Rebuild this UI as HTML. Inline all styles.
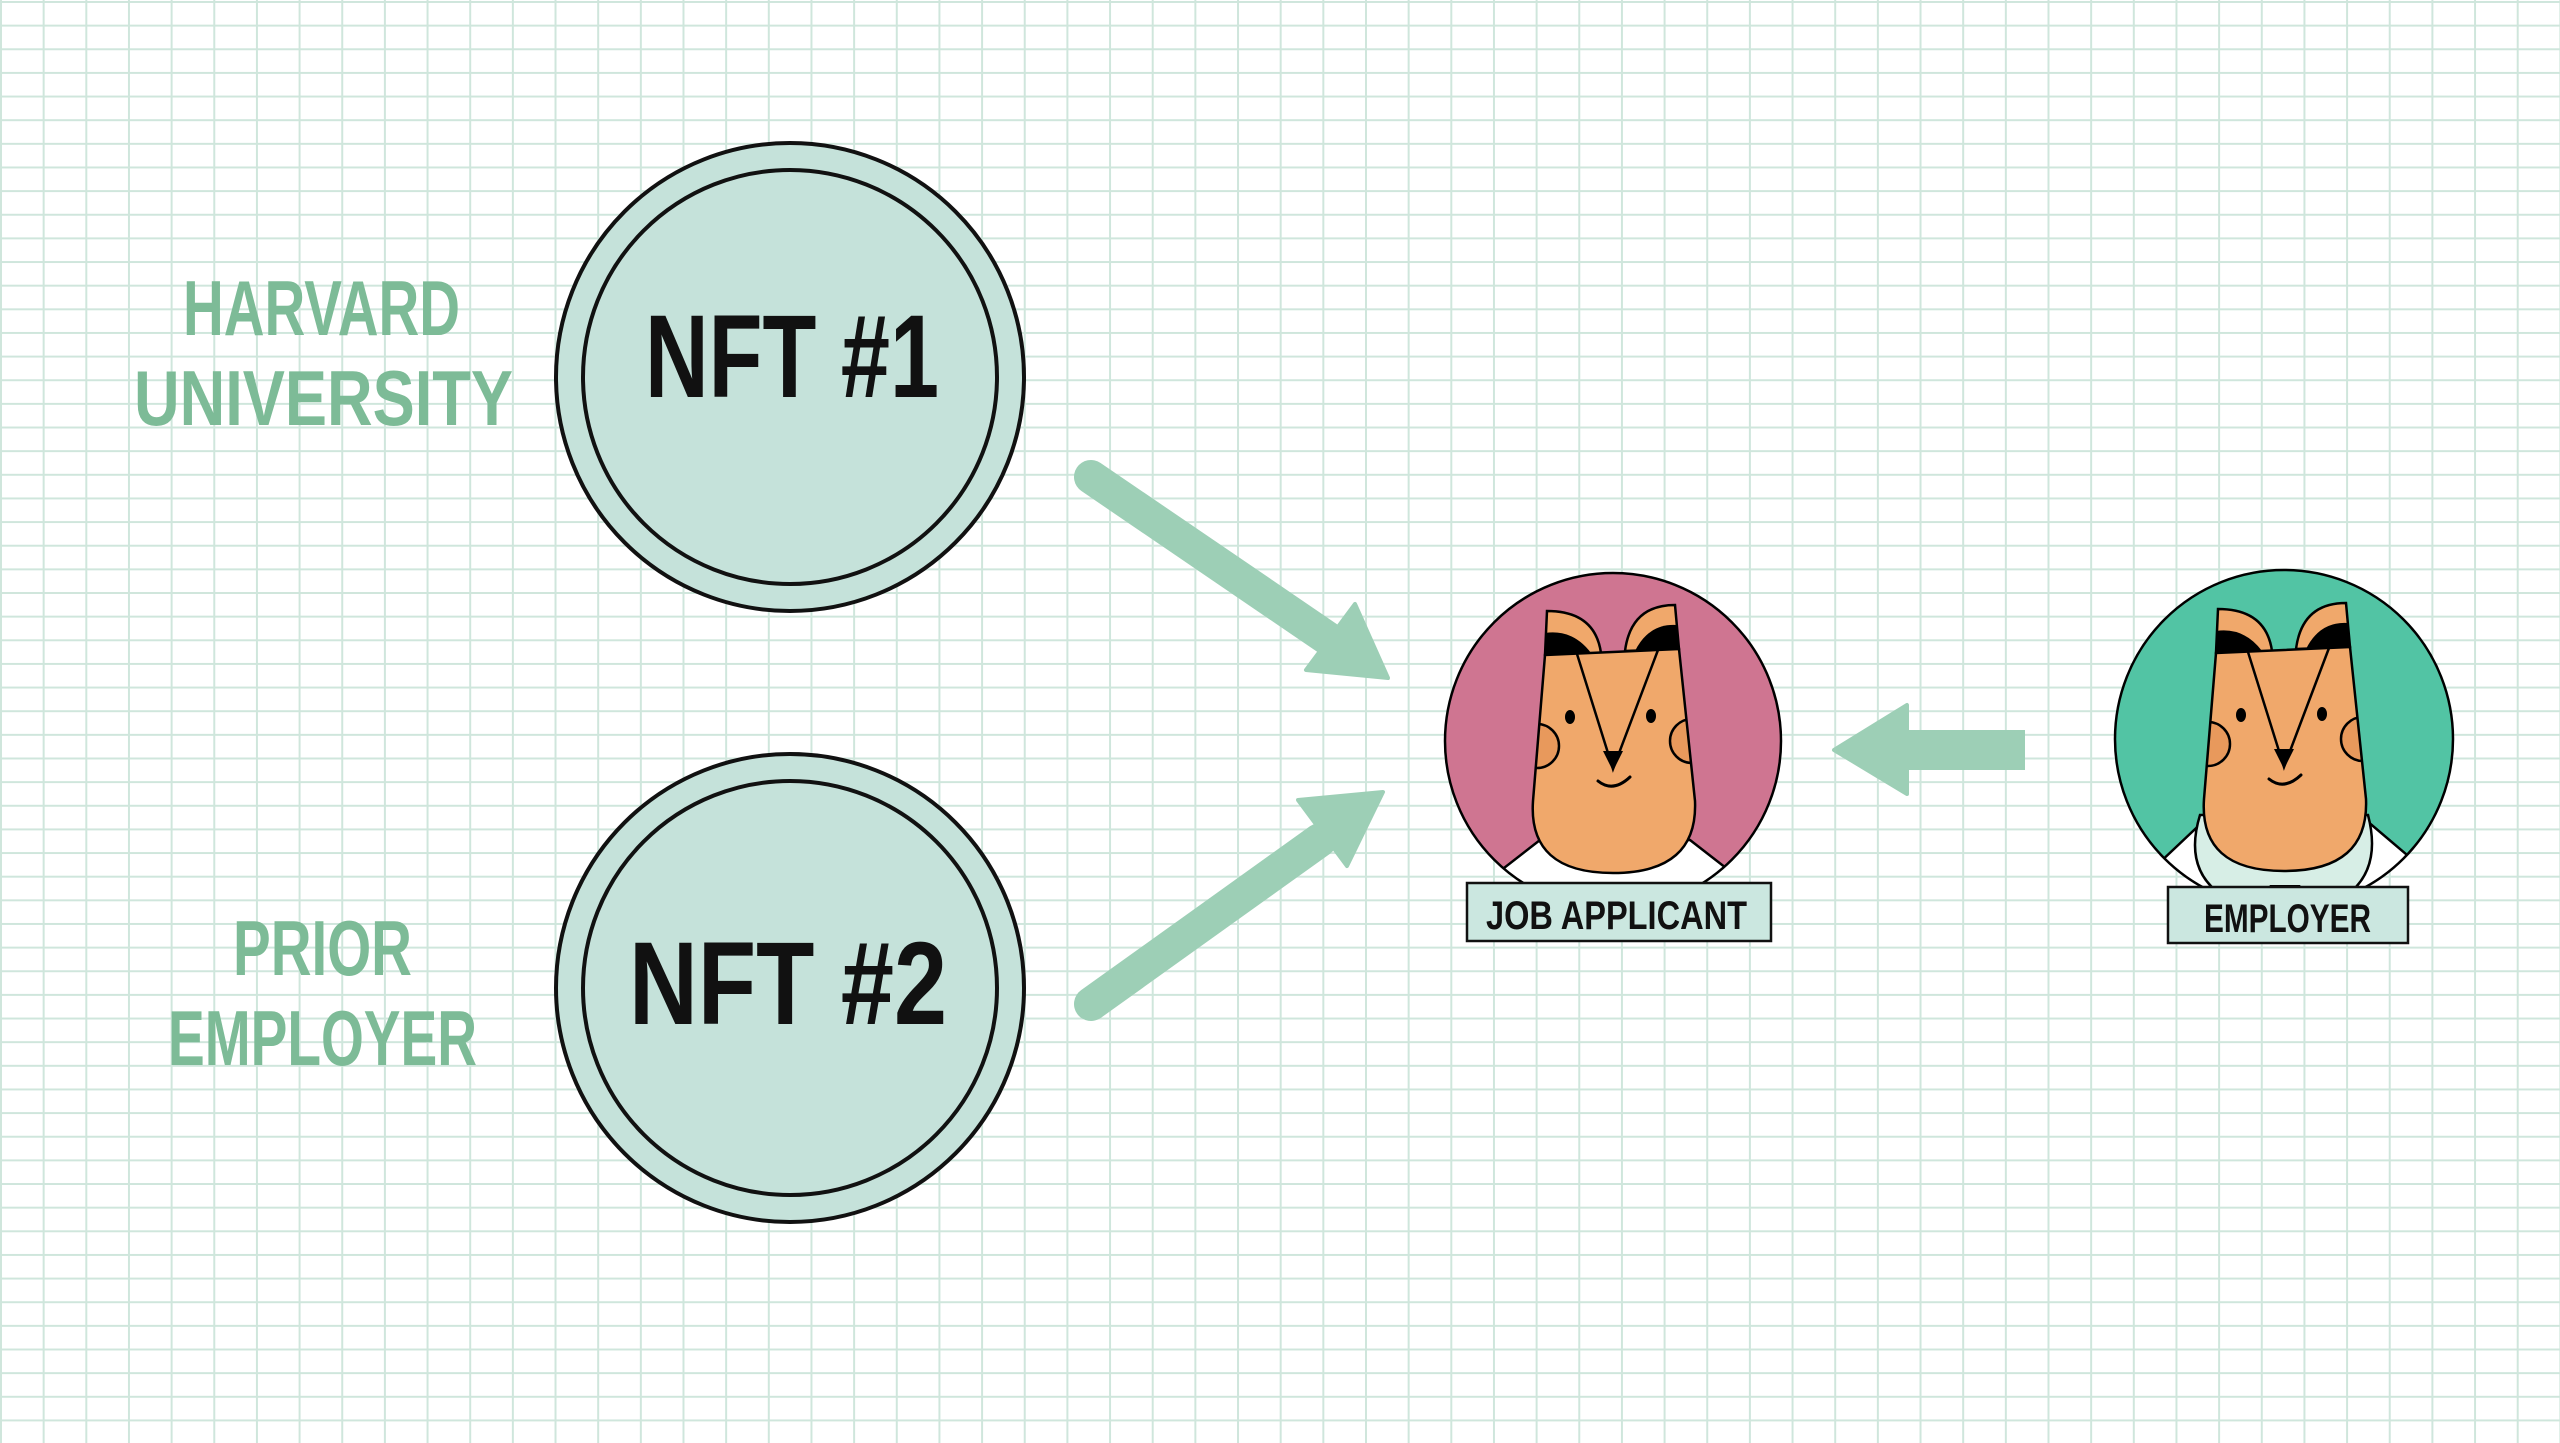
<!DOCTYPE html>
<html><head><meta charset="utf-8"><style>
html,body{margin:0;padding:0;}
body{width:2560px;height:1443px;overflow:hidden;background:#fff;
background-image:linear-gradient(to right,#cfe6dc 2px,transparent 2px),linear-gradient(to bottom,#cfe6dc 2px,transparent 2px);
background-size:42.67px 23.65px;background-position:0px 1px;}
svg{position:absolute;left:0;top:0}
text{font-family:"Liberation Sans",sans-serif;font-weight:bold}
</style></head><body>
<svg width="2560" height="1443" viewBox="0 0 2560 1443">
<defs>
<clipPath id="hc"><path d="M-68,-86 L66,-92 L82,60 Q85,132 0,132 Q-85,132 -80,60 Z"/></clipPath>
<g id="face">
  <path d="M-66,-130 Q-18,-130 -12,-88 L-68,-86 Z" fill="#f0a86b" stroke="#000" stroke-width="2.5"/>
  <path d="M-68,-108 Q-40,-112 -22,-88 L-68,-86 Z" fill="#000"/>
  <path d="M62,-136 Q18,-136 12,-90 L66,-92 Z" fill="#f0a86b" stroke="#000" stroke-width="2.5"/>
  <path d="M64,-116 Q36,-118 22,-90 L66,-92 Z" fill="#000"/>
  <path d="M-68,-86 L66,-92 L82,60 Q85,132 0,132 Q-85,132 -80,60 Z" fill="#f0a86b"/>
  <g clip-path="url(#hc)">
    <circle cx="-76" cy="5" r="22" fill="#e8995c" stroke="#000" stroke-width="2.5"/>
    <circle cx="79" cy="0" r="22" fill="#e8995c" stroke="#000" stroke-width="2.5"/>
  </g>
  <path d="M-68,-86 L66,-92 L82,60 Q85,132 0,132 Q-85,132 -80,60 Z" fill="none" stroke="#000" stroke-width="2.5"/>
  <path d="M-36,-87 L0,28 L45,-91" fill="none" stroke="#000" stroke-width="2.5"/>
  <path d="M-10,10 L10,10 L0,30 Z" fill="#000"/>
  <ellipse cx="-43" cy="-24" rx="5" ry="7" fill="#000"/>
  <ellipse cx="38" cy="-25" rx="5" ry="7" fill="#000"/>
  <path d="M-15,40 Q0,52 17,36" fill="none" stroke="#000" stroke-width="3" stroke-linecap="round"/>
</g>
<clipPath id="c1"><circle cx="1613" cy="741" r="168"/></clipPath>
<clipPath id="c2"><circle cx="2284" cy="739" r="169"/></clipPath>
</defs>

<g fill="#7dbb97" font-size="78">
<text x="183" y="335" textLength="277" lengthAdjust="spacingAndGlyphs">HARVARD</text>
<text x="134" y="425" textLength="379" lengthAdjust="spacingAndGlyphs">UNIVERSITY</text>
<text x="233" y="975" textLength="179" lengthAdjust="spacingAndGlyphs">PRIOR</text>
<text x="168" y="1065" textLength="309" lengthAdjust="spacingAndGlyphs">EMPLOYER</text>
</g>

<g fill="#c5e2da" stroke="#111" stroke-width="4">
<circle cx="790" cy="377" r="234"/><circle cx="790" cy="377" r="207"/>
<circle cx="790" cy="988" r="234"/><circle cx="790" cy="988" r="207"/>
</g>
<g fill="#111" font-size="118">
<text x="645" y="397" textLength="294" lengthAdjust="spacingAndGlyphs">NFT #1</text>
<text x="629" y="1024" textLength="318" lengthAdjust="spacingAndGlyphs">NFT #2</text>
</g>

<g fill="#9dcfb6" stroke="#9dcfb6">
<line x1="1091" y1="477" x2="1330" y2="640" stroke-width="34" stroke-linecap="round"/>
<polygon points="1388,678 1355,604 1306,670" stroke-width="4" stroke-linejoin="round"/>
<line x1="1091" y1="1004" x2="1320" y2="840" stroke-width="34" stroke-linecap="round"/>
<polygon points="1383,792 1298,800 1347,866" stroke-width="4" stroke-linejoin="round"/>
<line x1="1900" y1="750" x2="2025" y2="750" stroke-width="40"/>
<polygon points="1834,750 1907,705 1907,794" stroke-width="4" stroke-linejoin="round"/>
</g>

<circle cx="1613" cy="741" r="168" fill="#cf7591"/>
<g clip-path="url(#c1)">
  <path d="M1450,910 L1540,840 L1690,840 L1780,910 L1780,960 L1450,960 Z" fill="#fff" stroke="#000" stroke-width="2.5"/>
  <use href="#face" transform="translate(1613,741)"/>
</g>
<circle cx="1613" cy="741" r="168" fill="none" stroke="#000" stroke-width="2.5"/>
<rect x="1467" y="883" width="304" height="58" fill="#cbe7e0" stroke="#111" stroke-width="2.5"/>
<text x="1486" y="929" font-size="40" fill="#111" textLength="261" lengthAdjust="spacingAndGlyphs">JOB APPLICANT</text>

<circle cx="2284" cy="739" r="169" fill="#52c4a4"/>
<g clip-path="url(#c2)">
  <path d="M2120,900 L2210,815 L2360,815 L2460,900 L2460,960 L2120,960 Z" fill="#fff" stroke="#000" stroke-width="2.5"/>
  <path d="M2200,815 Q2180,880 2240,905 L2330,905 Q2385,880 2368,815 Z" fill="#d7eee6" stroke="#000" stroke-width="2.5"/>
  <path d="M2270,885 L2300,885 L2312,900 L2258,900 Z" fill="#000"/>
  <use href="#face" transform="translate(2284,739)"/>
</g>
<circle cx="2284" cy="739" r="169" fill="none" stroke="#000" stroke-width="2.5"/>
<rect x="2168" y="887" width="240" height="56" fill="#cbe7e0" stroke="#111" stroke-width="2.5"/>
<text x="2204" y="932" font-size="40" fill="#111" textLength="167" lengthAdjust="spacingAndGlyphs">EMPLOYER</text>
</svg>
</body></html>
